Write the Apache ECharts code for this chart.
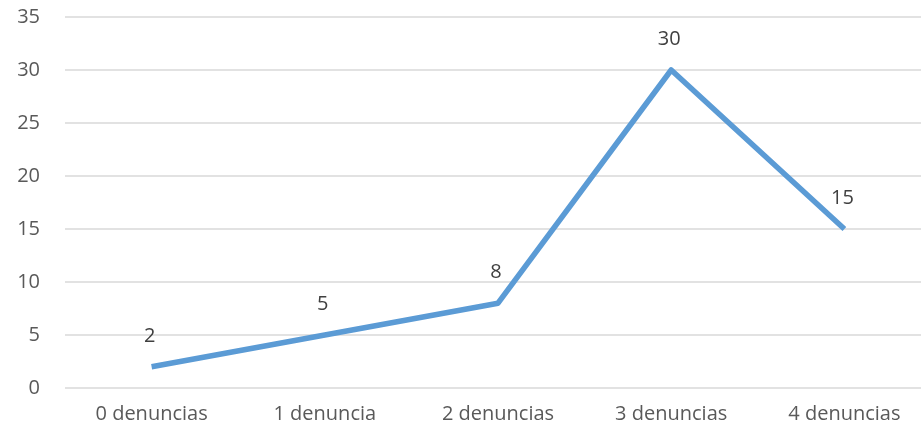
<!DOCTYPE html>
<html>
<head>
<meta charset="utf-8">
<script src="https://cdn.jsdelivr.net/npm/echarts@6/dist/echarts.min.js"></script>
<style>
  html, body { margin: 0; padding: 0; background: #fff; }
  #chart { width: 921px; height: 429px; }
</style>
</head>
<body>
<div id="chart"></div>
<script>
// Número de denuncias por categoría
const categories = ['0 denuncias', '1 denuncia', '2 denuncias', '3 denuncias', '4 denuncias'];
const values = [2, 5, 8, 30, 15];
const yTicks = { min: 0, max: 35, interval: 5 };

const textColor = '#595959';
const fontFamily = '"Open Sans", "Liberation Sans", sans-serif';

const chart = echarts.init(document.getElementById('chart'));
chart.setOption({
  animation: false,
  grid: {
    left: 65, width: 866, top: 17, bottom: 41,
    containLabel: false,
    outerBoundsMode: 'none'
  },
  xAxis: {
    type: 'category',
    data: categories,
    boundaryGap: true,
    axisLine: { show: false },
    axisTick: { show: false },
    axisLabel: { color: textColor, fontSize: 20, fontFamily: fontFamily, margin: 16 }
  },
  yAxis: {
    type: 'value',
    min: yTicks.min,
    max: yTicks.max,
    interval: yTicks.interval,
    axisLine: { show: false },
    axisTick: { show: false },
    axisLabel: { color: textColor, fontSize: 20, fontFamily: fontFamily, margin: 25 },
    splitLine: { lineStyle: { color: '#d9d9d9', width: 1.5 } }
  },
  series: [{
    type: 'line',
    data: values,
    symbol: 'circle',
    symbolSize: 2,
    showSymbol: true,
    itemStyle: { color: 'rgba(0,0,0,0)', borderWidth: 0 },
    lineStyle: { color: '#5b9bd5', width: 5.5, join: 'round' },
    label: {
      show: true,
      position: 'top',
      distance: 20,
      offset: [-2, 0],
      color: '#404040',
      fontSize: 20,
      fontFamily: fontFamily
    }
  }]
});
</script>
</body>
</html>
